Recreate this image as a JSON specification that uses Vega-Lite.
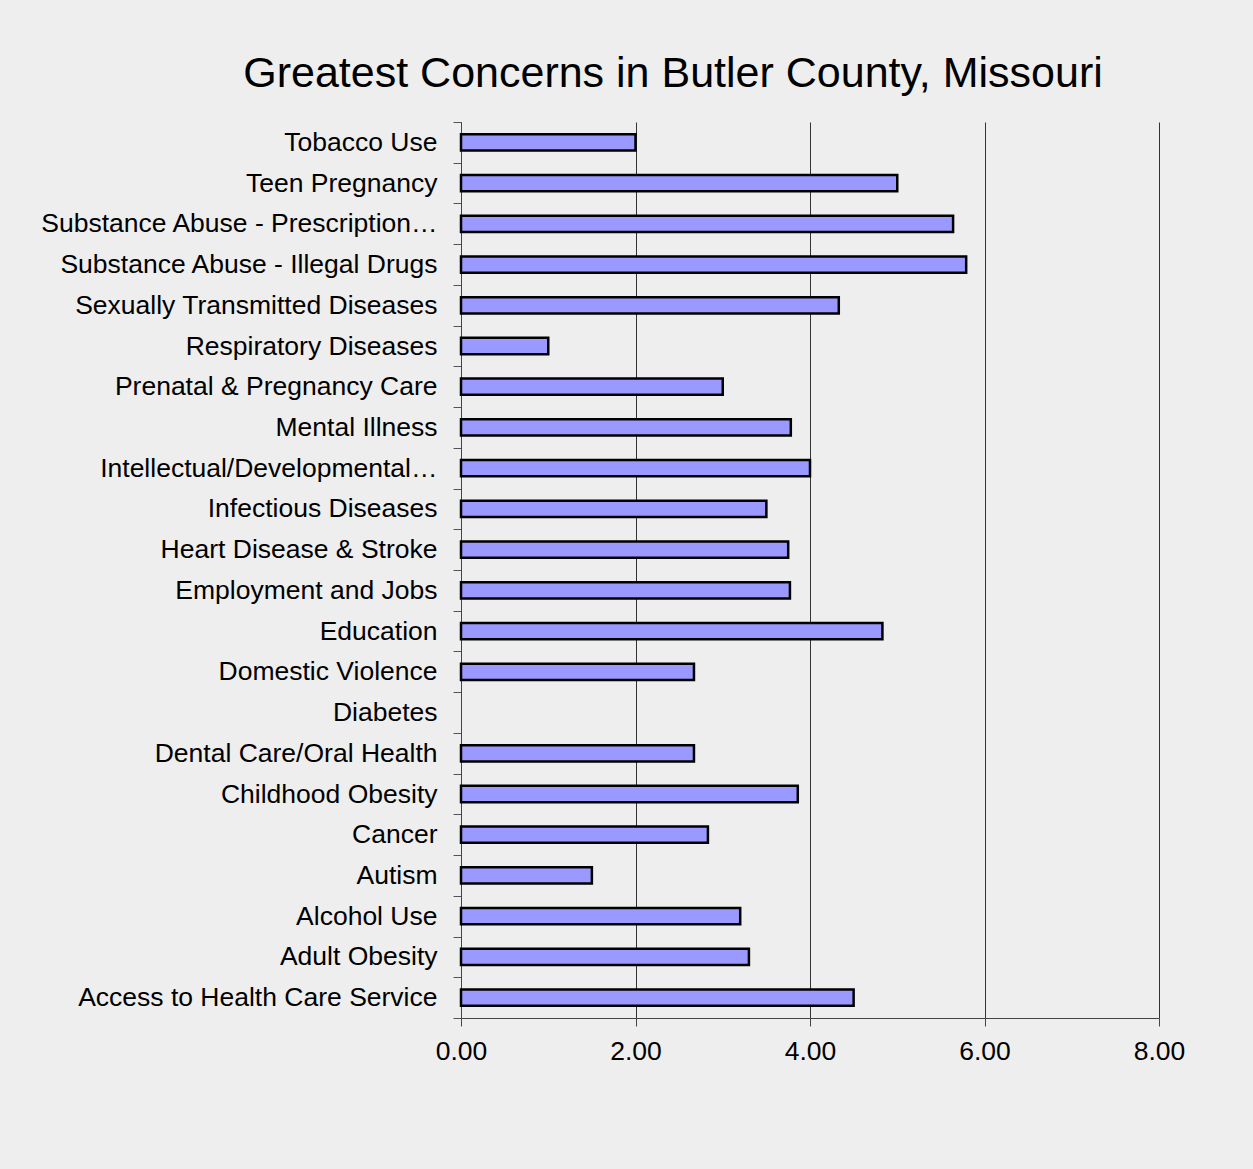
{
  "$schema": "https://vega.github.io/schema/vega-lite/v6.json",
  "width": 698,
  "height": 896,
  "autosize": {"type": "none"},
  "padding": {"left": 461, "top": 122, "right": 94, "bottom": 151},
  "background": "#eeeeee",
  "title": {
    "text": "Greatest Concerns in Butler County, Missouri",
    "font": "Liberation Sans",
    "fontSize": 43,
    "fontWeight": "normal",
    "color": "#000000",
    "anchor": "middle",
    "dx": -137,
    "offset": 13
  },
  "config": {"view": {"stroke": null}},
  "data": {
    "values": [
      {"concern": "Tobacco Use", "score": 2.0},
      {"concern": "Teen Pregnancy", "score": 5.0},
      {"concern": "Substance Abuse - Prescription…", "score": 5.64},
      {"concern": "Substance Abuse - Illegal Drugs", "score": 5.79},
      {"concern": "Sexually Transmitted Diseases", "score": 4.33},
      {"concern": "Respiratory Diseases", "score": 1.0},
      {"concern": "Prenatal & Pregnancy Care", "score": 3.0},
      {"concern": "Mental Illness", "score": 3.78},
      {"concern": "Intellectual/Developmental…", "score": 4.0},
      {"concern": "Infectious Diseases", "score": 3.5},
      {"concern": "Heart Disease & Stroke", "score": 3.75},
      {"concern": "Employment and Jobs", "score": 3.77},
      {"concern": "Education", "score": 4.83},
      {"concern": "Domestic Violence", "score": 2.67},
      {"concern": "Diabetes", "score": null},
      {"concern": "Dental Care/Oral Health", "score": 2.67},
      {"concern": "Childhood Obesity", "score": 3.86},
      {"concern": "Cancer", "score": 2.83},
      {"concern": "Autism", "score": 1.5},
      {"concern": "Alcohol Use", "score": 3.2},
      {"concern": "Adult Obesity", "score": 3.3},
      {"concern": "Access to Health Care Service", "score": 4.5}
    ]
  },
  "mark": {"type": "bar", "fill": "#9999ff", "stroke": "#000000", "strokeWidth": 2.5, "height": {"band": 0.4}},
  "encoding": {
    "y": {
      "field": "concern",
      "type": "nominal",
      "scale": {
        "domain": ["Tobacco Use", "Teen Pregnancy", "Substance Abuse - Prescription…", "Substance Abuse - Illegal Drugs", "Sexually Transmitted Diseases", "Respiratory Diseases", "Prenatal & Pregnancy Care", "Mental Illness", "Intellectual/Developmental…", "Infectious Diseases", "Heart Disease & Stroke", "Employment and Jobs", "Education", "Domestic Violence", "Diabetes", "Dental Care/Oral Health", "Childhood Obesity", "Cancer", "Autism", "Alcohol Use", "Adult Obesity", "Access to Health Care Service"],
        "paddingInner": 0,
        "paddingOuter": 0
      },
      "axis": {
        "title": null,
        "labelFont": "Liberation Sans",
        "labelFontSize": 26.5,
        "labelColor": "#000000",
        "labelPadding": 16,
        "labelLimit": 600,
        "tickBand": "extent",
        "tickSize": 8,
        "tickColor": "#555555",
        "domainColor": "#444444",
        "grid": false
      }
    },
    "x": {
      "field": "score",
      "type": "quantitative",
      "scale": {"domain": [0, 8], "nice": false},
      "axis": {
        "title": null,
        "values": [0, 2, 4, 6, 8],
        "format": ".2f",
        "labelFont": "Liberation Sans",
        "labelFontSize": 26.5,
        "labelColor": "#000000",
        "labelPadding": 12,
        "labelFlush": false,
        "tickSize": 8,
        "tickColor": "#444444",
        "domainColor": "#444444",
        "grid": true,
        "gridColor": "#333333",
        "gridWidth": 1
      }
    }
  }
}
